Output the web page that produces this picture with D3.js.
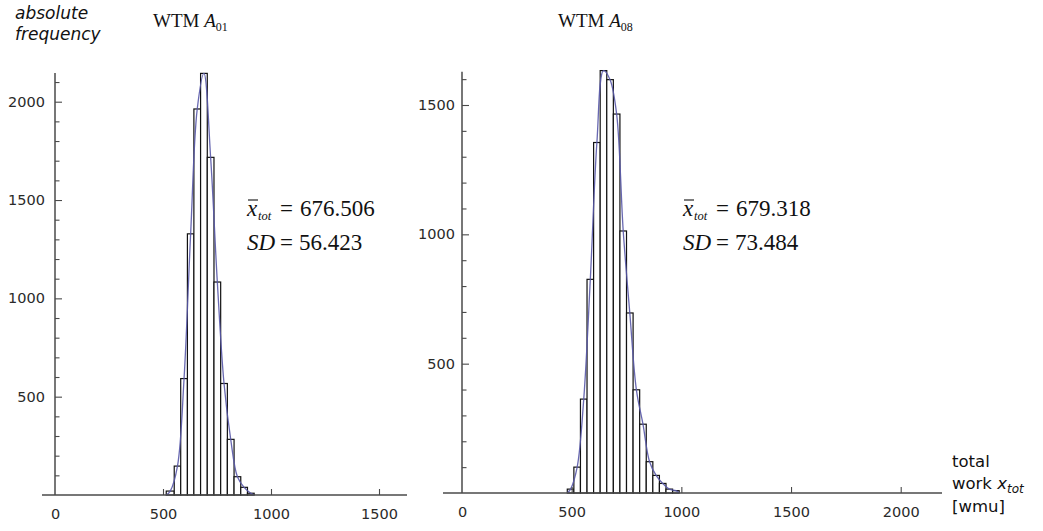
<!DOCTYPE html>
<html><head><meta charset="utf-8">
<script src="https://cdn.jsdelivr.net/npm/d3@7"></script>
<style>body{margin:0;background:#fff}svg{display:block}</style>
</head><body>
<svg id="chart" width="1043" height="531"></svg>
<script>
// ---- data ----
const leftBinEdges  = [515, 552, 582, 613, 643, 674, 705, 736, 767, 798, 829, 860, 891, 922];
const leftCounts    = [20, 147, 592, 1328, 1963, 2144, 1717, 1083, 567, 283, 93, 39, 9];
const rightBinEdges = [480, 510, 540, 570, 600, 630, 660, 690, 720, 750, 780, 810, 840, 870, 900, 930, 960, 990];
const rightCounts   = [15, 100, 363, 826, 1355, 1633, 1598, 1465, 1013, 696, 399, 266, 121, 68, 37, 15, 9];

const leftXTicks  = [0, 500, 1000, 1500];
const rightXTicks = [0, 500, 1000, 1500, 2000];
const leftYTicks  = [500, 1000, 1500, 2000];
const rightYTicks = [500, 1000, 1500];
const leftYMinor  = [100,200,300,400,600,700,800,900,1100,1200,1300,1400,1600,1700,1800,1900,2100];
const rightYMinor = [100,200,300,400,600,700,800,900,1100,1200,1300,1400,1600];

const leftTitle  = {main: "WTM ", sym: "A", sub: "01"};
const rightTitle = {main: "WTM ", sym: "A", sub: "08"};
const leftStats  = {mean: "676.506", sd: "56.423"};
const rightStats = {mean: "679.318", sd: "73.484"};

// ---- drawing ----
const svg = d3.select("#chart");
const axisColor = "#4a4a4a";
const tickFont = "'DejaVu Sans', sans-serif";

function panel(cfg) {
  const g = svg.append("g");
  const x = d3.scaleLinear().domain(cfg.xDom).range(cfg.xRange);
  const y = d3.scaleLinear().domain(cfg.yDom).range(cfg.yRange);

  // bars
  const bins = cfg.counts.map((c, i) => ({x0: cfg.edges[i], x1: cfg.edges[i + 1], c}));
  g.append("g").selectAll("rect").data(bins).join("rect")
    .attr("x", d => x(d.x0))
    .attr("y", d => y(d.c))
    .attr("width", d => x(d.x1) - x(d.x0))
    .attr("height", d => y(0) - y(d.c))
    .attr("fill", "#fff")
    .attr("stroke", "#111")
    .attr("stroke-width", 1.2);

  // smooth fitted curve through bar tops
  const pts = [[cfg.edges[0], 0]]
    .concat(bins.map(d => [(d.x0 + d.x1) / 2, d.c]))
    .concat([[cfg.edges[cfg.edges.length - 1], 0]]);
  g.append("path")
    .attr("d", d3.line().x(d => x(d[0])).y(d => y(d[1])).curve(d3.curveCatmullRom.alpha(0.5))(pts))
    .attr("fill", "none")
    .attr("stroke", "#5858a8")
    .attr("stroke-width", 1.3)
    .attr("opacity", 0.9);

  // x axis line
  g.append("line")
    .attr("x1", cfg.xLine[0]).attr("x2", cfg.xLine[1])
    .attr("y1", y(0)).attr("y2", y(0))
    .attr("stroke", axisColor).attr("stroke-width", 1.7);
  // y axis line
  g.append("line")
    .attr("x1", x(0)).attr("x2", x(0))
    .attr("y1", y(0)).attr("y2", y(cfg.yTop))
    .attr("stroke", axisColor).attr("stroke-width", 1.5);

  // x ticks and labels
  const xa = g.append("g").attr("transform", `translate(0,${y(0)})`)
    .call(d3.axisBottom(x).tickValues(cfg.xTicks).tickSize(-6).tickPadding(14).tickFormat(d3.format("d")));
  xa.select(".domain").remove();
  xa.selectAll(".tick line").attr("stroke", axisColor).attr("stroke-width", 1.1)
    .filter(d => d === 0).remove();
  xa.selectAll("text").attr("font-family", tickFont).attr("font-size", 14.5).attr("fill", "#2a2a2a");

  // y ticks (major + minor)
  const ya = g.append("g").attr("transform", `translate(${x(0)},0)`)
    .call(d3.axisLeft(y).tickValues(cfg.yTicks).tickSize(-7).tickPadding(cfg.yPad).tickFormat(d3.format("d")));
  ya.select(".domain").remove();
  ya.selectAll(".tick line").attr("stroke", axisColor).attr("stroke-width", 1.1);
  ya.selectAll("text").attr("font-family", tickFont).attr("font-size", 14.5).attr("fill", "#2a2a2a");
  const ym = g.append("g").attr("transform", `translate(${x(0)},0)`)
    .call(d3.axisLeft(y).tickValues(cfg.yMinor).tickSize(-4.5).tickFormat(""));
  ym.select(".domain").remove();
  ym.selectAll(".tick line").attr("stroke", axisColor).attr("stroke-width", 1.1);

  // title
  const t = svg.append("text").attr("x", cfg.titleX).attr("y", 27)
    .attr("font-family", "'Liberation Serif', serif").attr("font-size", 19).attr("fill", "#111");
  t.append("tspan").text(cfg.title.main);
  t.append("tspan").attr("font-style", "italic").text(cfg.title.sym);
  t.append("tspan").attr("font-size", 12).attr("dy", 4).text(cfg.title.sub);

  // statistics
  const sx = cfg.statX;
  const s1 = svg.append("g").attr("font-family", "'Liberation Serif', serif").attr("fill", "#111");
  s1.append("text").attr("x", sx).attr("y", 216).attr("font-size", 23).attr("font-style", "italic").text("x");
  s1.append("line").attr("x1", sx + 1).attr("x2", sx + 11).attr("y1", 200).attr("y2", 200)
    .attr("stroke", "#111").attr("stroke-width", 1.1);
  s1.append("text").attr("x", sx + 11).attr("y", 220).attr("font-size", 12.5).attr("font-style", "italic").text("tot");
  s1.append("text").attr("x", sx + 33).attr("y", 216).attr("font-size", 23).text("=");
  s1.append("text").attr("x", sx + 53).attr("y", 216).attr("font-size", 23).text(cfg.stats.mean);
  s1.append("text").attr("x", sx).attr("y", 250).attr("font-size", 23).attr("font-style", "italic").text("SD");
  s1.append("text").attr("x", sx + 33).attr("y", 250).attr("font-size", 23).text("=");
  s1.append("text").attr("x", sx + 52).attr("y", 250).attr("font-size", 23).text(cfg.stats.sd);
}

panel({
  edges: leftBinEdges, counts: leftCounts,
  xDom: [0, 1500], xRange: [55, 379], xLine: [42, 407],
  yDom: [0, 2000], yRange: [495, 101.7], yTop: 2146,
  xTicks: leftXTicks, yTicks: leftYTicks, yMinor: leftYMinor, yPad: 10,
  title: leftTitle, titleX: 153, stats: leftStats, statX: 247
});
panel({
  edges: rightBinEdges, counts: rightCounts,
  xDom: [0, 2000], xRange: [462, 900.7], xLine: [443, 942],
  yDom: [0, 1500], yRange: [493, 105], yTop: 1629,
  xTicks: rightXTicks, yTicks: rightYTicks, yMinor: rightYMinor, yPad: 7,
  title: rightTitle, titleX: 558, stats: rightStats, statX: 683
});

// y axis title
const yt = svg.append("text").attr("font-family", "'DejaVu Sans', sans-serif")
  .attr("font-size", 17).attr("font-style", "italic").attr("fill", "#111");
yt.append("tspan").attr("x", 15).attr("y", 19).text("absolute");
yt.append("tspan").attr("x", 15).attr("y", 40).text("frequency");

// x axis title
const xt = svg.append("text").attr("font-family", "'DejaVu Sans', sans-serif")
  .attr("font-size", 16.5).attr("fill", "#111");
xt.append("tspan").attr("x", 952).attr("y", 467).text("total");
xt.append("tspan").attr("x", 952).attr("y", 489).text("work ");
xt.append("tspan").attr("font-style", "italic").text("x");
xt.append("tspan").attr("font-style", "italic").attr("font-size", 12).attr("dy", 4).text("tot");
xt.append("tspan").attr("x", 952).attr("y", 512).text("[wmu]");
</script>
</body></html>
